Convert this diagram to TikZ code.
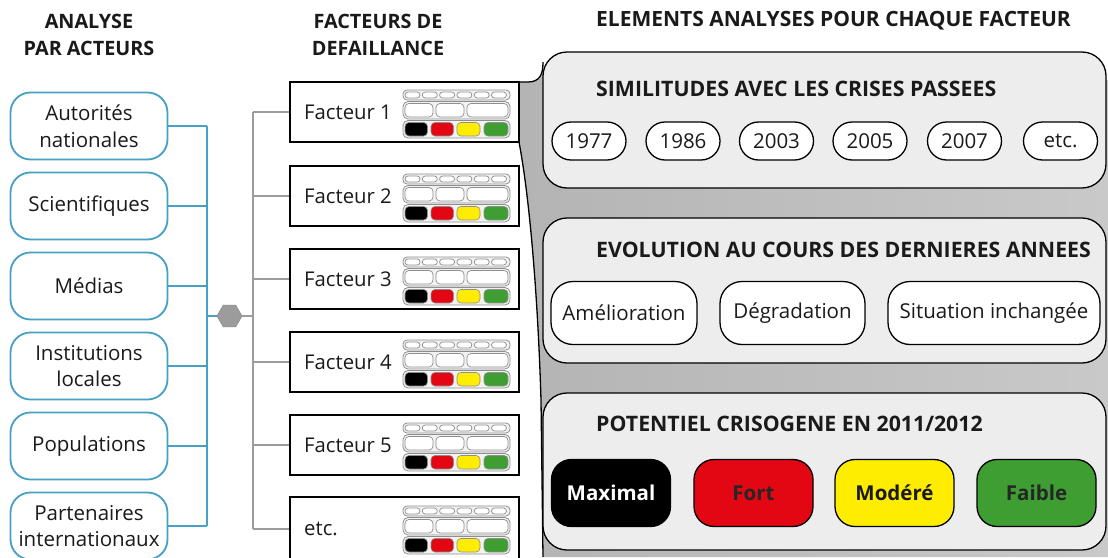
\documentclass[tikz,border=0pt]{standalone}
\usepackage{fontspec}
\setmainfont{Open Sans}
\usetikzlibrary{shapes.geometric}
\definecolor{teal1}{HTML}{45A0C6}
\definecolor{lgray}{HTML}{9C9C9C}
\definecolor{bggray}{HTML}{C9C9C9}
\definecolor{bgdark}{HTML}{B4B4B4}
\definecolor{panelfill}{HTML}{EDEDED}
\definecolor{iconline}{HTML}{8E8E8E}
\definecolor{iconfill}{HTML}{F2F2F2}
\definecolor{cred}{HTML}{E30613}
\definecolor{cyellow}{HTML}{FFED00}
\definecolor{cgreen}{HTML}{3E9E32}
\definecolor{txt}{HTML}{1A1A1A}
\tikzset{
  minicon/.pic={
    % row 1
    \draw[iconline, line width=0.8pt, fill=iconfill, rounded corners=4pt] (0,0) rectangle (107,10);
    \foreach \i in {0,...,5}{
      \draw[iconline, line width=0.7pt, fill=white, rounded corners=3pt] ({2+\i*17.3},2) rectangle ({17+\i*17.3},8);
    }
    % row 2
    \draw[iconline, line width=0.8pt, fill=iconfill, rounded corners=5pt] (0,11.5) rectangle (107,29);
    \draw[iconline, line width=0.7pt, fill=white, rounded corners=4pt] (2,13.5) rectangle (30,27);
    \draw[iconline, line width=0.7pt, fill=white, rounded corners=4pt] (33,13.5) rectangle (61,27);
    \draw[iconline, line width=0.7pt, fill=white, rounded corners=4pt] (64,13.5) rectangle (105,27);
    % row 3
    \draw[iconline, line width=0.8pt, fill=iconfill, rounded corners=5pt] (0,30.5) rectangle (107,48);
    \draw[iconline, line width=0.6pt, fill=black, rounded corners=4pt] (2,32.5) rectangle (24.5,46);
    \draw[iconline, line width=0.6pt, fill=cred, rounded corners=4pt] (28,32.5) rectangle (50.5,46);
    \draw[iconline, line width=0.6pt, fill=cyellow, rounded corners=4pt] (54,32.5) rectangle (77,46);
    \draw[iconline, line width=0.6pt, fill=cgreen, rounded corners=4pt] (81,32.5) rectangle (105,46);
  }
}
\begin{document}
\begin{tikzpicture}[x=1pt,y=-1pt,
  font=\fontsize{20.5}{25}\selectfont,
  actor/.style={draw=teal1, line width=1.8pt, rounded corners=20pt, fill=white, minimum width=157pt, minimum height=67pt, align=center, inner sep=0pt, text=txt, font=\fontsize{20.5}{26.5}\selectfont},
  fbox/.style={draw=black, line width=1.6pt, fill=white, minimum width=229pt, minimum height=60pt, inner sep=0pt},
  ftext/.style={anchor=west, text=txt, inner sep=0pt, font=\fontsize{20.3}{22}\selectfont},
  head/.style={font=\fontsize{19.8}{27}\selectfont\bfseries, align=center, text=txt, inner sep=0pt},
  ptitle/.style={font=\fontsize{21.3}{24}\selectfont\bfseries, anchor=west, text=txt, inner sep=0pt},
  panel/.style={draw=black, line width=1.3pt, fill=panelfill, rounded corners=24pt, inner sep=0pt},
  pill/.style={draw=black, line width=1.3pt, fill=white, rounded corners=19pt, minimum height=38pt, minimum width=74pt, inner sep=0pt, text=txt},
  evo/.style={draw=black, line width=1.3pt, fill=white, rounded corners=22pt, minimum height=63pt, inner sep=0pt, text=txt},
  level/.style={draw=black, line width=1.3pt, rounded corners=20pt, minimum width=119pt, minimum height=67pt, font=\fontsize{20.5}{24}\selectfont\bfseries, inner sep=0pt},
  tline/.style={teal1, line width=1.8pt},
  gline/.style={lgray, line width=1.8pt},
]
\useasboundingbox (0,0) rectangle (1108,557);
\fill[white] (0,0) rectangle (1108,557);

% ---------- headings ----------
\node[head] (h1) at (89,35) {ANALYSE\\PAR ACTEURS};
\node[head] (h2) at (378,35) {FACTEURS DE\\DEFAILLANCE};
\node[head, font=\fontsize{21}{27}\selectfont\bfseries] (h3) at (833.5,21) {ELEMENTS ANALYSES POUR CHAQUE FACTEUR};

% ---------- grey backdrop ----------
\shade[left color=bgdark, right color=bggray] (519,82) -- (528,82) .. controls (540,82) and (543,74) .. (543,62) -- (543,80) -- (1108,80) -- (1108,557) -- (543,557) -- (541,400) .. controls (538,300) and (530,200) .. (519,142) -- cycle;
\draw[black, line width=1.3pt] (519,82) -- (528,82) .. controls (540,82) and (543,74) .. (543,62);
\draw[black, line width=1.3pt] (519,142) .. controls (530,200) and (538,300) .. (541,400) -- (543,557);

% ---------- panels ----------
\node[panel, minimum width=563pt, minimum height=136pt] (p1) at (824.5,120) {};
\node[panel, minimum width=563pt, minimum height=145pt] (p2) at (824.5,290.5) {};
\node[panel, minimum width=563pt, minimum height=157pt] (p3) at (824.5,471.5) {};

\node[ptitle] (t1) at (596,89) {SIMILITUDES AVEC LES CRISES PASSEES};
\node[ptitle] (t2) at (596,250) {EVOLUTION AU COURS DES DERNIERES ANNEES};
\node[ptitle] (t3) at (596,424) {POTENTIEL CRISOGENE EN 2011/2012};

\node[pill] (y1) at (589,141) {1977};
\node[pill] (y2) at (683,141) {1986};
\node[pill] (y3) at (776.5,141) {2003};
\node[pill] (y4) at (870,141) {2005};
\node[pill] (y5) at (964.5,141) {2007};
\node[pill] (y6) at (1060.5,141) {etc.};

\node[evo, minimum width=146pt] (e1) at (624,313) {Amélioration};
\node[evo, minimum width=145pt] (e2) at (792.5,313) {Dégradation};
\node[evo, minimum width=212pt] (e3) at (994,313) {Situation inchangée};

\node[level, fill=black, text=white] (l1) at (611,493) {Maximal};
\node[level, fill=cred, text=black!85] (l2) at (753.5,493) {Fort};
\node[level, fill=cyellow, text=black!90] (l3) at (894.5,493) {Modéré};
\node[level, fill=cgreen, text=black!85] (l4) at (1036.5,493) {Faible};

% ---------- actors ----------
\node[actor] (a1) at (89,126) {Autorités\\nationales};
\node[actor] (a2) at (89,206) {Scientifiques};
\node[actor] (a3) at (89,286) {Médias};
\node[actor] (a4) at (89,366) {Institutions\\locales};
\node[actor] (a5) at (89,446) {Populations};
\node[actor] (a6) at (89,526) {Partenaires\\internationaux};

% ---------- factors ----------
\node[fbox] (f1) at (404.5,112) {};
\node[fbox] (f2) at (404.5,196) {};
\node[fbox] (f3) at (404.5,279) {};
\node[fbox] (f4) at (404.5,362) {};
\node[fbox] (f5) at (404.5,445) {};
\node[fbox, minimum height=62pt] (f6) at (404.5,528) {};

\node[ftext] (ft1) at (304,112) {Facteur 1};
\node[ftext] (ft2) at (304,196) {Facteur 2};
\node[ftext] (ft3) at (304,279) {Facteur 3};
\node[ftext] (ft4) at (304,362) {Facteur 4};
\node[ftext] (ft5) at (304,445) {Facteur 5};
\node[ftext] (ft6) at (304,529) {etc.};

\foreach \t in {82,166,249,332,415,498}{
  \pic at (403,\t+8) {minicon};
}

% ---------- hub ----------
\node[regular polygon, regular polygon sides=6, minimum size=25pt, inner sep=0pt, fill=lgray, draw=black!45, line width=0.6pt] (hub) at (229.5,316) {};
\coordinate (tk) at (207,316);
\coordinate (gk) at (253,316);

\foreach \a in {a1,a2,a3,a4,a5,a6}{
  \draw[tline] (\a.east) -- (\a.east -| tk);
}
\draw[tline] (a1.east -| tk) -- (a6.east -| tk);
\draw[tline] (tk) -- (hub.west);

\foreach \f in {f1,f2,f3,f4,f5}{
  \draw[gline] (\f.west -| gk) -- (\f.west);
}
\draw[gline] (gk |- 0,529) -- (f6.west |- 0,529);
\draw[gline] (f1.west -| gk) -- (gk |- 0,529);
\draw[gline] (hub.east) -- (gk);
\end{tikzpicture}
\end{document}
